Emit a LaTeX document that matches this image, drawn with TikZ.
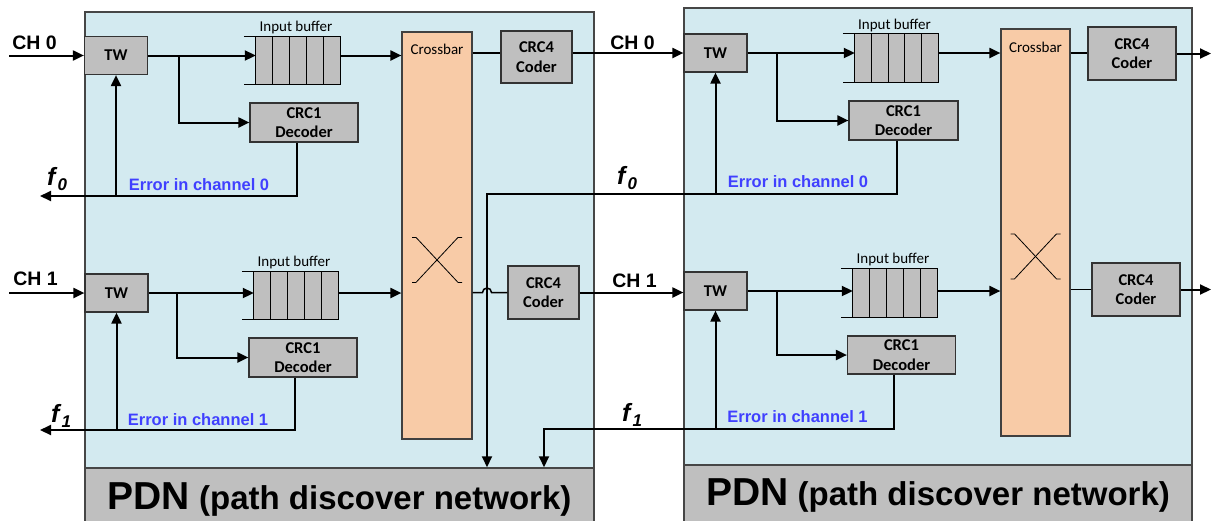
\documentclass[tikz,border=0pt]{standalone}
\usepackage{fontspec}
\setmainfont{Liberation Sans}
\newfontfamily\calfont{Carlito}
\usetikzlibrary{arrows.meta,calc}

\definecolor{panelfill}{RGB}{211,234,240}
\definecolor{panelline}{RGB}{70,70,70}
\definecolor{boxfill}{RGB}{191,191,191}
\definecolor{xbarfill}{RGB}{248,203,167}
\definecolor{errblue}{RGB}{64,64,255}

% f with a subscript, as used for the feedback signals
\newcommand\fsig[1]{\textbf{\textit{f}}\raisebox{-5pt}{\fontsize{17}{17}\selectfont\bfseries\itshape #1}}

% cells and open left end of an input buffer node
\newcommand\ibufcells[1]{%
  \draw[line width=1.2pt] ([xshift=-12pt]#1.north west) -- (#1.north east) -- (#1.south east) -- ([xshift=-12pt]#1.south west);
  \foreach \k in {0,0.2,0.4,0.6,0.8}
    \draw[line width=1.2pt] ($(#1.north west)!\k!(#1.north east)$) -- ($(#1.south west)!\k!(#1.south east)$);
}

% switching cross drawn inside a crossbar node
\newcommand\xbarcross[2]{%
  \coordinate (#1c) at ([yshift=-#2pt]#1.north);
  \draw[line width=0.8pt] ([shift={(-25,-22.5)}]#1c) -- ++(4,0) -- ++(42,45) -- ++(4,0);
  \draw[line width=0.8pt] ([shift={(-25,22.5)}]#1c) -- ++(4,0) -- ++(42,-45) -- ++(4,0);
}

\begin{document}
\begin{tikzpicture}[x=1pt,y=-1pt,
  panel/.style={draw=panelline, line width=1.5pt, fill=panelfill},
  gbox/.style={draw=black!80, line width=1.2pt, fill=boxfill, inner sep=0pt, align=center,
               font=\calfont\bfseries\fontsize{16.5}{19.5}\selectfont},
  twbox/.style={gbox, minimum width=63pt, minimum height=38pt, font=\calfont\bfseries\fontsize{16.5}{18}\selectfont},
  decbox/.style={gbox, minimum width=108pt, minimum height=39pt},
  codbox/.style={gbox, minimum height=53pt},
  bufbox/.style={fill=boxfill, minimum width=84pt, minimum height=47pt, inner sep=0pt},
  xbar/.style={draw=black!75, line width=1.2pt, fill=xbarfill, minimum width=70pt, minimum height=407pt, inner sep=0pt},
  pdnbox/.style={draw=panelline, line width=1.5pt, fill=boxfill, inner sep=0pt},
  buflab/.style={anchor=base, inner sep=0pt, font=\calfont\fontsize{15}{15}\selectfont},
  xbarlab/.style={inner sep=0pt, font=\calfont\fontsize{15}{15}\selectfont},
  chlab/.style={anchor=base, inner sep=0pt, font=\bfseries\fontsize{19.5}{20}\selectfont},
  errlab/.style={anchor=base, inner sep=0pt, text=errblue, font=\bfseries\fontsize{16.5}{17}\selectfont},
  flab/.style={anchor=base west, inner sep=0pt, font=\fontsize{25}{25}\selectfont},
  wire/.style={line width=2pt, black},
  thinwire/.style={line width=1.5pt, black},
  arr/.style={wire, -{Triangle[length=11pt,width=10pt]}}
]
\useasboundingbox (0,0) rectangle (1212,520);
\clip (0,0) rectangle (1212,520);

% ---------- router panels ----------
\draw[panel] (85,12) rectangle (594,530);
\draw[panel] (684,8) rectangle (1192,530);
\node[pdnbox, minimum width=509pt, minimum height=62pt] (pdnL) at (339.5,499)
  {{\bfseries\fontsize{39}{39}\selectfont PDN}{\bfseries\fontsize{33}{33}\selectfont\ (path discover network)}};
\node[pdnbox, minimum width=508pt, minimum height=60pt] (pdnR) at (938,495)
  {{\bfseries\fontsize{39}{39}\selectfont PDN}{\bfseries\fontsize{33}{33}\selectfont\ (path discover network)}};

% ---------- crossbars ----------
\node[xbar] (xbarL) at (437,235.5) {};
\node[xbar, minimum width=69pt] (xbarR) at (1035.5,232.5) {};
\node[xbarlab] (xbarLt) at ([yshift=-18pt]xbarL.north) {Crossbar};
\node[xbarlab] (xbarRt) at ([yshift=-19pt]xbarR.north) {Crossbar};
\xbarcross{xbarL}{228.5}
\xbarcross{xbarR}{228}

% ---------- left router blocks ----------
\node[twbox] (twL0) at (116,55.5) {TW};
\node[twbox] (twL1) at (116.5,293) {TW};
\node[bufbox] (bufL0) at (298,60.5) {};
\node[bufbox] (bufL1) at (296,295.5) {};
\ibufcells{bufL0}
\ibufcells{bufL1}
\node[buflab] (bufL0t) at ([xshift=-2pt,yshift=5pt]bufL0.north) {Input buffer};
\node[buflab] (bufL1t) at ([xshift=-2pt,yshift=5pt]bufL1.north) {Input buffer};
\node[decbox] (decL0) at (304,122.5) {CRC1\\Decoder};
\node[decbox] (decL1) at (303,357.5) {CRC1\\Decoder};
\node[codbox, minimum width=71pt, minimum height=52pt] (cL0) at (536.5,57) {CRC4\\Coder};
\node[codbox, minimum width=71pt] (cL1) at (543.5,292.5) {CRC4\\Coder};

% ---------- right router blocks ----------
\node[twbox] (twR0) at (715.5,53) {TW};
\node[twbox] (twR1) at (715.5,291) {TW};
\node[bufbox, minimum width=83pt, minimum height=48pt] (bufR0) at (896.5,58) {};
\node[bufbox, minimum width=84pt, minimum height=48pt] (bufR1) at (895,293) {};
\ibufcells{bufR0}
\ibufcells{bufR1}
\node[buflab] (bufR0t) at ([xshift=-2pt,yshift=4pt]bufR0.north) {Input buffer};
\node[buflab] (bufR1t) at ([xshift=-2pt,yshift=5pt]bufR1.north) {Input buffer};
\node[decbox, minimum width=109pt] (decR0) at (903.5,120.5) {CRC1\\Decoder};
\node[decbox, minimum height=38pt] (decR1) at (901.5,355) {CRC1\\Decoder};
\node[codbox, minimum width=88pt] (cR0) at (1132,53.5) {CRC4\\Coder};
\node[codbox, minimum width=88pt] (cR1) at (1136,289.5) {CRC4\\Coder};

% ---------- wire end points and bends ----------
\coordinate (inL0) at (9,55.5);
\coordinate (inL1) at (9,293);
\coordinate (outL0) at (40,196);
\coordinate (outL1) at (40,430);
\coordinate (outR0) at (1211,53.5);
\coordinate (outR1) at (1211,289.5);
\coordinate (f0turn) at (487,194);
\coordinate (f1turn) at (544,429);
\coordinate (brL0) at (179,55.5);
\coordinate (brL1) at (177,293);
\coordinate (brR0) at (777,53);
\coordinate (brR1) at (777,291);
\coordinate (hop) at (f0turn |- cL1.west);

% ---------- left router wiring ----------
\draw[arr] (inL0) -- (twL0.west);
\draw[arr] (twL0.east) -- (twL0.east -| bufL0.west);
\draw[arr] (brL0) |- (decL0.west);
\draw[arr] (twL0.east -| bufL0.east) -- (twL0.east -| xbarL.west);
\draw[arr] ([xshift=-7pt]decL0.south) |- (outL0);
\draw[arr] (twL0.south |- outL0) -- (twL0.south);
\draw[thinwire] (xbarL.east |- twR0.west) -- (cL0.west |- twR0.west);
\draw[arr] (cL0.east |- twR0.west) -- (twR0.west);

\draw[arr] (inL1) -- (twL1.west);
\draw[arr] (twL1.east) -- (twL1.east -| bufL1.west);
\draw[arr] (brL1) |- (decL1.west);
\draw[arr] (twL1.east -| bufL1.east) -- (twL1.east -| xbarL.west);
\draw[arr] ([xshift=-8pt]decL1.south) |- (outL1);
\draw[arr] (twL1.south |- outL1) -- (twL1.south);
\draw[thinwire] (xbarL.east |- cL1.west) -- ([xshift=-4.5pt]hop) arc[start angle=180,end angle=0,radius=4.5pt] -- (cL1.west);
\draw[arr] (cL1.east) -- (cL1.east -| twR1.west);

% ---------- right router wiring ----------
\draw[arr] (twR0.east) -- (twR0.east -| bufR0.west);
\draw[arr] (brR0) |- (decR0.west);
\draw[arr] (twR0.east -| bufR0.east) -- (twR0.east -| xbarR.west);
\draw[arr] ([xshift=-7pt]decR0.south) |- (f0turn) -- (f0turn |- pdnL.north);
\draw[arr] (twR0.south |- f0turn) -- (twR0.south);
\draw[thinwire] (xbarR.east |- twR0.east) -- (cR0.west |- twR0.east);
\draw[arr] (cR0.east) -- (outR0);

\draw[arr] (twR1.east) -- (twR1.east -| bufR1.west);
\draw[arr] (brR1) |- (decR1.west);
\draw[arr] (twR1.east -| bufR1.east) -- (twR1.east -| xbarR.west);
\draw[arr] ([xshift=-7.5pt]decR1.south) |- (f1turn) -- (f1turn |- pdnL.north);
\draw[arr] (twR1.south |- f1turn) -- (twR1.south);
\draw[thinwire] (xbarR.east |- cR1.west) -- (cR1.west);
\draw[arr] (cR1.east) -- (outR1);

% ---------- labels ----------
\node[chlab] (chL0) at (34.5,49) {CH 0};
\node[chlab] (chL1) at (35.5,285) {CH 1};
\node[chlab] (chM0) at (632.5,49) {CH 0};
\node[chlab] (chM1) at (634.5,287) {CH 1};
\node[flab] (fL0) at (47,185) {\fsig{0}};
\node[flab] (fL1) at (51,422) {\fsig{1}};
\node[flab] (fM0) at (617,184) {\fsig{0}};
\node[flab] (fM1) at (622,421) {\fsig{1}};
\node[errlab] (eL0) at (199,190) {Error in channel 0};
\node[errlab] (eL1) at (198,425) {Error in channel 1};
\node[errlab] (eR0) at (798,187) {Error in channel 0};
\node[errlab] (eR1) at (797.5,422) {Error in channel 1};
\end{tikzpicture}
\end{document}
